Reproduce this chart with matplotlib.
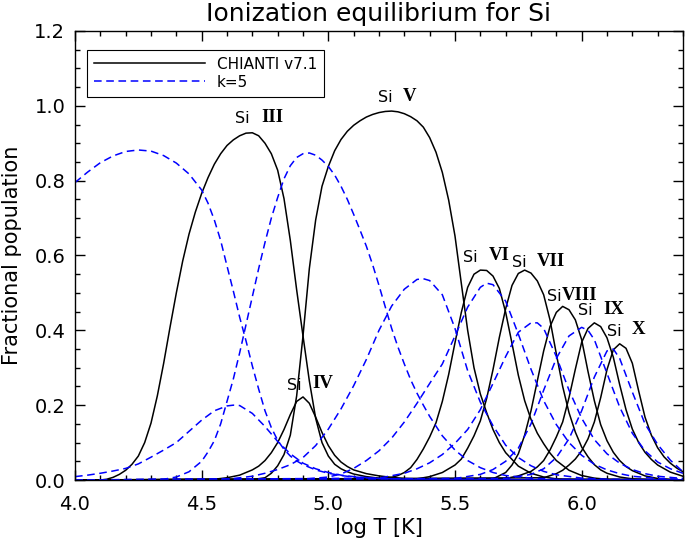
import matplotlib
matplotlib.use('Agg')   # no display in the sandbox
import matplotlib.pyplot as plt
from matplotlib.lines import Line2D
from matplotlib.ticker import MultipleLocator, FormatStrFormatter

# --- CHIANTI v7.1 (Maxwellian) ion fractions ------------------------------
t_si3 = [4.100, 4.125, 4.150, 4.175, 4.200, 4.225, 4.250, 4.275, 4.300, 4.325,
         4.350, 4.375, 4.400, 4.425, 4.450, 4.475, 4.500, 4.525, 4.550, 4.575,
         4.600, 4.625, 4.650, 4.675, 4.700, 4.725, 4.750, 4.775, 4.800, 4.825,
         4.850, 4.875, 4.900, 4.925, 4.950, 4.975, 5.000, 5.025, 5.050, 5.075,
         5.100, 5.150, 5.200, 5.250, 5.300]
f_si3 = [0.000, 0.002, 0.007, 0.015, 0.026, 0.042, 0.064, 0.100, 0.152, 0.225,
         0.312, 0.408, 0.500, 0.585, 0.657, 0.716, 0.766, 0.808, 0.844, 0.872,
         0.894, 0.909, 0.920, 0.927, 0.928, 0.920, 0.900, 0.872, 0.828, 0.752,
         0.640, 0.508, 0.385, 0.265, 0.165, 0.100, 0.064, 0.042, 0.030, 0.022,
         0.016, 0.009, 0.005, 0.003, 0.001]

t_si4 = [4.550, 4.600, 4.650, 4.700, 4.725, 4.750, 4.775, 4.800, 4.825, 4.850,
         4.875, 4.900, 4.925, 4.950, 4.975, 5.000, 5.025, 5.050, 5.075, 5.100,
         5.150, 5.200, 5.250, 5.300, 5.400]
f_si4 = [0.002, 0.006, 0.013, 0.027, 0.037, 0.052, 0.073, 0.100, 0.135, 0.175,
         0.210, 0.222, 0.205, 0.168, 0.127, 0.092, 0.066, 0.048, 0.036, 0.027,
         0.017, 0.011, 0.007, 0.004, 0.001]

t_si5 = [4.700, 4.750, 4.775, 4.800, 4.825, 4.850, 4.875, 4.900, 4.925, 4.950,
         4.975, 5.000, 5.025, 5.050, 5.075, 5.100, 5.125, 5.150, 5.175, 5.200,
         5.225, 5.250, 5.275, 5.300, 5.325, 5.350, 5.375, 5.400, 5.425, 5.450,
         5.475, 5.500, 5.525, 5.550, 5.575, 5.600, 5.625, 5.650, 5.675, 5.700,
         5.750, 5.800, 5.850, 5.900]
f_si5 = [0.001, 0.006, 0.018, 0.038, 0.068, 0.120, 0.225, 0.385, 0.565, 0.695,
         0.785, 0.838, 0.880, 0.910, 0.932, 0.948, 0.960, 0.970, 0.977, 0.982,
         0.985, 0.986, 0.984, 0.979, 0.971, 0.960, 0.943, 0.915, 0.876, 0.822,
         0.748, 0.652, 0.525, 0.400, 0.300, 0.230, 0.180, 0.135, 0.100, 0.073,
         0.037, 0.018, 0.008, 0.003]

t_si6 = [5.200, 5.250, 5.275, 5.300, 5.325, 5.350, 5.375, 5.400, 5.425, 5.450,
         5.475, 5.500, 5.525, 5.550, 5.575, 5.600, 5.625, 5.650, 5.675, 5.700,
         5.725, 5.750, 5.775, 5.800, 5.825, 5.850, 5.875, 5.900, 5.950, 6.000,
         6.050, 6.100]
f_si6 = [0.002, 0.007, 0.012, 0.020, 0.033, 0.055, 0.083, 0.115, 0.153, 0.210,
         0.282, 0.367, 0.448, 0.515, 0.550, 0.561, 0.560, 0.545, 0.512, 0.448,
         0.365, 0.280, 0.212, 0.162, 0.125, 0.097, 0.072, 0.052, 0.026, 0.012,
         0.005, 0.002]

t_si7 = [5.350, 5.400, 5.450, 5.500, 5.525, 5.550, 5.575, 5.600, 5.625, 5.650,
         5.675, 5.700, 5.725, 5.750, 5.775, 5.800, 5.825, 5.850, 5.875, 5.900,
         5.925, 5.950, 5.975, 6.000, 6.025, 6.050, 6.075, 6.100, 6.150, 6.200]
f_si7 = [0.003, 0.009, 0.020, 0.040, 0.056, 0.085, 0.118, 0.158, 0.218, 0.295,
         0.381, 0.458, 0.520, 0.552, 0.561, 0.553, 0.532, 0.495, 0.428, 0.337,
         0.250, 0.180, 0.128, 0.088, 0.062, 0.041, 0.027, 0.018, 0.008, 0.003]

t_si8 = [5.650, 5.700, 5.725, 5.750, 5.775, 5.800, 5.825, 5.850, 5.875, 5.900,
         5.925, 5.950, 5.975, 6.000, 6.025, 6.050, 6.075, 6.100, 6.125, 6.150,
         6.175, 6.200, 6.250, 6.300]
f_si8 = [0.003, 0.020, 0.040, 0.070, 0.120, 0.185, 0.265, 0.345, 0.410, 0.448,
         0.464, 0.455, 0.428, 0.375, 0.290, 0.212, 0.148, 0.105, 0.074, 0.052,
         0.036, 0.025, 0.011, 0.004]

t_si9 = [5.700, 5.750, 5.800, 5.825, 5.850, 5.875, 5.900, 5.925, 5.950, 5.975,
         6.000, 6.025, 6.050, 6.075, 6.100, 6.125, 6.150, 6.175, 6.200, 6.225,
         6.250, 6.275, 6.300, 6.350, 6.400]
f_si9 = [0.004, 0.011, 0.023, 0.035, 0.052, 0.080, 0.115, 0.155, 0.220, 0.296,
         0.368, 0.405, 0.420, 0.410, 0.380, 0.328, 0.255, 0.188, 0.136, 0.100,
         0.074, 0.055, 0.040, 0.021, 0.010]

t_si10 = [5.850, 5.900, 5.925, 5.950, 5.975, 6.000, 6.025, 6.050, 6.075, 6.100,
          6.125, 6.150, 6.175, 6.200, 6.225, 6.250, 6.275, 6.300, 6.325, 6.350,
          6.375, 6.400]
f_si10 = [0.006, 0.017, 0.026, 0.040, 0.056, 0.078, 0.110, 0.155, 0.220, 0.295,
          0.348, 0.364, 0.352, 0.312, 0.238, 0.168, 0.120, 0.086, 0.062, 0.045,
          0.032, 0.022]

# --- kappa = 5 ion fractions ----------------------------------------------
tk_si3 = [4.000, 4.050, 4.100, 4.150, 4.200, 4.250, 4.300, 4.350, 4.400, 4.450,
          4.500, 4.525, 4.550, 4.575, 4.600, 4.625, 4.650, 4.675, 4.700, 4.725,
          4.750, 4.775, 4.800, 4.825, 4.850, 4.875, 4.900, 4.950, 5.000, 5.050,
          5.100, 5.200, 5.300, 5.400]
fk_si3 = [0.795, 0.823, 0.848, 0.866, 0.878, 0.882, 0.879, 0.867, 0.847, 0.818,
          0.775, 0.740, 0.695, 0.640, 0.572, 0.505, 0.435, 0.372, 0.305, 0.243,
          0.185, 0.140, 0.106, 0.082, 0.064, 0.051, 0.041, 0.027, 0.018, 0.012,
          0.008, 0.004, 0.002, 0.001]

tk_si4 = [4.000, 4.050, 4.100, 4.150, 4.200, 4.250, 4.300, 4.350, 4.400, 4.450,
          4.500, 4.550, 4.600, 4.625, 4.650, 4.700, 4.750, 4.800, 4.850, 4.900,
          4.950, 5.000, 5.050, 5.100, 5.200, 5.300]
fk_si4 = [0.009, 0.013, 0.018, 0.024, 0.031, 0.043, 0.061, 0.080, 0.100, 0.130,
          0.160, 0.185, 0.198, 0.200, 0.199, 0.178, 0.143, 0.103, 0.070, 0.045,
          0.030, 0.020, 0.013, 0.009, 0.004, 0.002]

tk_si5 = [4.350, 4.400, 4.450, 4.500, 4.525, 4.550, 4.575, 4.600, 4.625, 4.650,
          4.675, 4.700, 4.725, 4.750, 4.775, 4.800, 4.825, 4.850, 4.875, 4.900,
          4.925, 4.950, 4.975, 5.000, 5.025, 5.050, 5.075, 5.100, 5.125, 5.150,
          5.175, 5.200, 5.225, 5.250, 5.275, 5.300, 5.325, 5.350, 5.375, 5.400,
          5.450, 5.500, 5.550, 5.600, 5.650, 5.700, 5.800, 5.900]
fk_si5 = [0.002, 0.008, 0.022, 0.050, 0.075, 0.105, 0.150, 0.210, 0.270, 0.340,
          0.415, 0.490, 0.565, 0.635, 0.700, 0.755, 0.805, 0.840, 0.862, 0.872,
          0.874, 0.868, 0.855, 0.838, 0.815, 0.785, 0.750, 0.710, 0.668, 0.625,
          0.575, 0.520, 0.462, 0.405, 0.355, 0.310, 0.268, 0.232, 0.200, 0.170,
          0.118, 0.080, 0.052, 0.033, 0.020, 0.012, 0.005, 0.002]

tk_si6 = [4.600, 4.700, 4.750, 4.800, 4.850, 4.900, 4.950, 5.000, 5.050, 5.100,
          5.150, 5.200, 5.250, 5.300, 5.350, 5.375, 5.400, 5.450, 5.500, 5.550,
          5.600, 5.650, 5.700, 5.750, 5.800, 5.850, 5.900, 6.000, 6.100]
fk_si6 = [0.002, 0.010, 0.018, 0.028, 0.041, 0.060, 0.092, 0.136, 0.190, 0.252,
          0.322, 0.400, 0.465, 0.510, 0.536, 0.538, 0.533, 0.495, 0.405, 0.292,
          0.208, 0.145, 0.093, 0.060, 0.038, 0.023, 0.014, 0.005, 0.002]

tk_si7 = [4.900, 5.000, 5.050, 5.100, 5.150, 5.200, 5.250, 5.300, 5.350, 5.400,
          5.450, 5.500, 5.550, 5.600, 5.625, 5.650, 5.700, 5.750, 5.800, 5.850,
          5.900, 5.950, 6.000, 6.050, 6.100, 6.150, 6.200, 6.300, 6.400]
fk_si7 = [0.002, 0.008, 0.016, 0.031, 0.052, 0.078, 0.112, 0.155, 0.205, 0.258,
          0.310, 0.385, 0.462, 0.515, 0.526, 0.522, 0.478, 0.390, 0.296, 0.212,
          0.148, 0.100, 0.066, 0.042, 0.027, 0.017, 0.010, 0.004, 0.002]

tk_si8 = [5.200, 5.300, 5.350, 5.400, 5.450, 5.500, 5.550, 5.600, 5.650, 5.700,
          5.750, 5.800, 5.825, 5.850, 5.900, 5.950, 6.000, 6.050, 6.100, 6.150,
          6.200, 6.250, 6.300, 6.400]
fk_si8 = [0.005, 0.018, 0.030, 0.046, 0.068, 0.098, 0.135, 0.188, 0.258, 0.330,
          0.395, 0.420, 0.420, 0.405, 0.330, 0.240, 0.165, 0.108, 0.070, 0.045,
          0.028, 0.017, 0.010, 0.004]

tk_si9 = [5.500, 5.600, 5.650, 5.700, 5.750, 5.800, 5.850, 5.900, 5.950, 6.000,
          6.025, 6.050, 6.100, 6.150, 6.200, 6.250, 6.300, 6.350, 6.400]
fk_si9 = [0.004, 0.015, 0.028, 0.050, 0.085, 0.150, 0.240, 0.325, 0.385, 0.408,
          0.400, 0.375, 0.285, 0.195, 0.125, 0.078, 0.048, 0.030, 0.018]

tk_si10 = [5.700, 5.800, 5.850, 5.900, 5.950, 6.000, 6.050, 6.100, 6.125, 6.150,
           6.200, 6.250, 6.300, 6.350, 6.400]
fk_si10 = [0.004, 0.015, 0.030, 0.060, 0.110, 0.185, 0.275, 0.345, 0.350, 0.325,
           0.235, 0.150, 0.095, 0.053, 0.022]

ions = ['III', 'IV', 'V', 'VI', 'VII', 'VIII', 'IX', 'X']
chianti = [(t_si3, f_si3), (t_si4, f_si4), (t_si5, f_si5), (t_si6, f_si6),
           (t_si7, f_si7), (t_si8, f_si8), (t_si9, f_si9), (t_si10, f_si10)]
kappa5 = [(tk_si3, fk_si3), (tk_si4, fk_si4), (tk_si5, fk_si5), (tk_si6, fk_si6),
          (tk_si7, fk_si7), (tk_si8, fk_si8), (tk_si9, fk_si9), (tk_si10, fk_si10)]

T_MIN, T_MAX = 4.0, 6.4


def _pad_zero(t, f):
    """Extend a curve with zero population out to both ends of the T range."""
    t, f = list(t), list(f)
    if t[0] > T_MIN:
        t, f = [T_MIN] + t, [0.0] + f
    if t[-1] < T_MAX:
        t, f = t + [T_MAX], f + [0.0]
    return t, f


fig = plt.figure(figsize=(6.85, 5.43), dpi=100)
ax = fig.add_axes([75 / 685, 63 / 543, 608 / 685, 449 / 543])

for t, f in chianti:
    ax.plot(*_pad_zero(t, f), color='black', lw=1.1)
for t, f in kappa5:
    ax.plot(*_pad_zero(t, f), color='#0000ff', lw=1.1, dashes=(5, 3))

ax.set_xlim(T_MIN, T_MAX)
ax.set_ylim(0.0, 1.2)
ax.xaxis.set_major_locator(MultipleLocator(0.5))
ax.xaxis.set_minor_locator(MultipleLocator(0.1))
ax.yaxis.set_major_locator(MultipleLocator(0.2))
ax.yaxis.set_minor_locator(MultipleLocator(0.05))
ax.xaxis.set_major_formatter(FormatStrFormatter('%.1f'))
ax.yaxis.set_major_formatter(FormatStrFormatter('%.1f'))
ax.tick_params(which='both', direction='in', top=True, right=True, width=1)
ax.tick_params(which='major', length=7)
ax.tick_params(which='minor', length=3.5)
ax.tick_params(axis='x', pad=11, labelsize=14)
ax.tick_params(axis='y', pad=7, labelsize=14)
for sp in ax.spines.values():
    sp.set_linewidth(1.0)

ax.set_xlabel('log T [K]', fontsize=15, labelpad=3)
ax.set_ylabel('Fractional population', fontsize=15, labelpad=9)
ax.set_title('Ionization equilibrium for Si', fontsize=18, pad=7)

# ion labels: (x of "Si", x of numeral, y)
label_pos = [(4.632, 4.734, 0.965), (4.837, 4.936, 0.253), (5.196, 5.295, 1.021),
             (5.532, 5.634, 0.595), (5.725, 5.824, 0.581), (5.863, 5.923, 0.490),
             (5.986, 6.084, 0.453), (6.100, 6.199, 0.397)]
for ion, (xs, xn, y) in zip(ions, label_pos):
    ax.text(xs, y, 'Si', fontsize=11.5, ha='left', va='center')
    ax.text(xn, y + 0.004, ion, fontsize=13.5, ha='left', va='center',
            family='Liberation Serif', weight='bold')

handles = [Line2D([], [], color='black', lw=1.1),
           Line2D([], [], color='#0000ff', lw=1.1, dashes=(5, 3))]
leg = ax.legend(handles, ['CHIANTI v7.1', 'k=5'], loc='upper left',
                bbox_to_anchor=(0.0197, 0.958), borderaxespad=0, fontsize=11,
                handlelength=7.3, handletextpad=0.75, borderpad=0.45,
                labelspacing=0.2, fancybox=False, framealpha=1)
leg.get_frame().set_edgecolor('black')
leg.get_frame().set_linewidth(0.8)

fig.savefig('out.png', dpi=100)
